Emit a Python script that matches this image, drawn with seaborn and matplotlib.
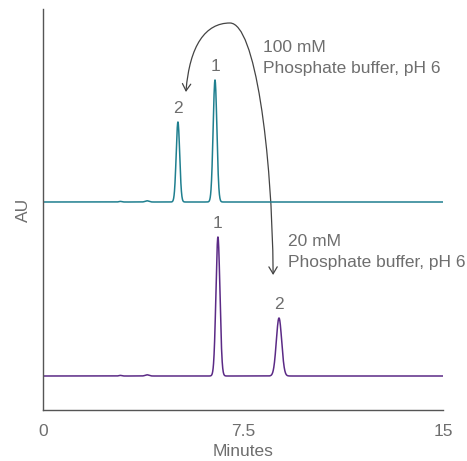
import numpy as np
import pandas as pd
import matplotlib
matplotlib.use("Agg")
import matplotlib.pyplot as plt
import seaborn as sns
from matplotlib.patches import FancyArrowPatch
from matplotlib.path import Path

# peak tables (retention time in min, height, width sigma)
top_rt = [2.9, 3.9, 5.06, 6.45]
top_height = [0.6, 1.2, 80.0, 122.0]
top_sigma = [0.05, 0.07, 0.065, 0.07]
top_baseline = 208

bottom_rt = [2.9, 3.9, 6.56, 8.85]
bottom_height = [0.6, 1.2, 139.0, 58.0]
bottom_sigma = [0.05, 0.07, 0.075, 0.1]
bottom_baseline = 34

peak_labels_top = [("2", 5.06, 288), ("1", 6.45, 330)]
peak_labels_bottom = [("1", 6.56, 173), ("2", 8.85, 92)]

time = np.linspace(0, 15, 3001)


def trace(rts, heights, sigmas, base):
    sig = np.full_like(time, float(base))
    for rt, h, s in zip(rts, heights, sigmas):
        sig += h * np.exp(-0.5 * ((time - rt) / s) ** 2)
    return sig


df = pd.concat([
    pd.DataFrame({"Minutes": time, "AU": trace(top_rt, top_height, top_sigma, top_baseline), "run": "100 mM"}),
    pd.DataFrame({"Minutes": time, "AU": trace(bottom_rt, bottom_height, bottom_sigma, bottom_baseline), "run": "20 mM"}),
])

sns.set_style("white")
plt.rcParams["font.family"] = ["Liberation Sans", "DejaVu Sans"]
grey = "#6e6e6e"
fs = 12.5

fig = plt.figure(figsize=(4.67, 4.61), dpi=100)
ax = fig.add_axes([43 / 467, 51 / 461, 400 / 467, 401 / 461])

sns.lineplot(data=df, x="Minutes", y="AU", hue="run",
             palette={"100 mM": "#1f7f8f", "20 mM": "#5b2a86"},
             linewidth=1.1, legend=False, ax=ax, estimator=None)

ax.set_xlim(0, 15)
ax.set_ylim(0, 401)
ax.set_xticks([0, 7.5, 15])
ax.set_xticklabels(["0", "7.5", "15"])
ax.set_yticks([])
ax.tick_params(axis="x", direction="out", length=5, width=1, color="#555555",
               labelsize=fs, labelcolor=grey, pad=5)
ax.set_xlabel("Minutes", fontsize=fs, color=grey, labelpad=4)
ax.set_ylabel("AU", fontsize=fs, color=grey, labelpad=9)
sns.despine(ax=ax)
for sp in ["left", "bottom"]:
    ax.spines[sp].set_color("#555555")
    ax.spines[sp].set_linewidth(1.0)

for txt, x, y in peak_labels_top + peak_labels_bottom:
    ax.text(x, y + 6, txt, ha="center", va="bottom", fontsize=fs, color=grey)

ax.text(8.25, 352, "100 mM\nPhosphate buffer, pH 6", ha="left", va="center",
        fontsize=fs, color=grey, linespacing=1.45)
ax.text(9.18, 158, "20 mM\nPhosphate buffer, pH 6", ha="left", va="center",
        fontsize=fs, color=grey, linespacing=1.45)

verts = [(5.36, 318), (5.5, 365), (6.1, 387), (7.01, 387),
         (7.95, 387), (8.59, 260), (8.63, 135)]
codes = [Path.MOVETO] + [Path.CURVE4] * 6
arc = FancyArrowPatch(path=Path(verts, codes), arrowstyle="<->,head_length=5,head_width=3",
                      color="#444444", linewidth=0.9, shrinkA=0, shrinkB=0)
ax.add_patch(arc)

fig.savefig("out.png", dpi=100)
